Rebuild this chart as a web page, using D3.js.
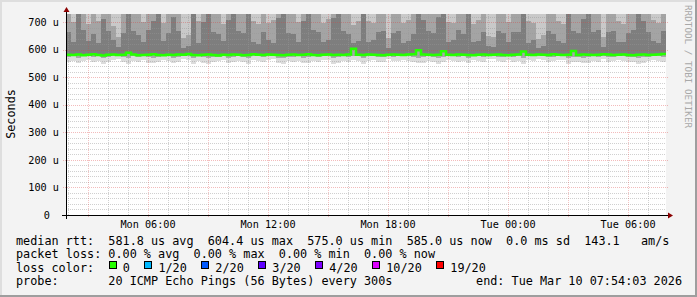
<!DOCTYPE html>
<html>
<head>
<meta charset="utf-8">
<script src="https://cdn.jsdelivr.net/npm/d3@7"></script>
<style>
body { margin: 0; background: #f3f3f3; }
svg text { font-family: "DejaVu Sans Mono", monospace; white-space: pre; }
</style>
</head>
<body>
<div id="viz"></div>
<script>
// user defined variables
var startTime = new Date(Date.UTC(2026, 2, 9, 1, 54, 3));
var endTime = new Date(Date.UTC(2026, 2, 10, 7, 54, 3));
var stepMinutes = 15;

// rtt samples in microseconds, one per 15 min slot
var median = [
  582,581,583,580,582,584,581,579,582,583,
  581,582,589,583,580,581,582,584,581,580,
  582,581,583,582,585,581,580,582,583,581,
  579,582,581,583,582,580,581,584,582,581,
  583,582,581,580,582,583,581,582,584,581,
  580,582,583,581,582,581,583,604,582,581,
  583,582,581,580,582,583,582,581,583,584,
  598,583,582,581,582,595,582,581,583,582,
  581,580,582,583,581,582,583,581,580,582,
  583,594,582,581,583,582,581,584,582,581,
  582,596,581,583,582,581,582,584,583,581,
  582,583,581,580,582,583,581,582,583,585
];

var lo = [
  556,561,552,558,563,554,560,549,557,562,
  566,555,550,559,557,562,553,551,556,564,
  558,552,557,566,563,550,561,553,549,557,
  559,562,551,554,558,556,550,563,560,557,
  562,565,552,549,558,556,561,551,553,559,
  557,562,564,550,552,558,556,563,561,548,
  560,564,557,555,567,558,559,563,561,556,
  551,553,558,556,550,554,562,560,557,559,
  552,563,561,556,566,565,558,557,562,556,
  559,550,563,561,567,564,556,558,562,563,
  549,557,556,551,553,558,555,566,557,558,
  562,561,557,556,550,553,558,563,561,556
];

var p20 = [
  575,577,572,576,578,574,577,571,575,577,
  578,574,572,576,575,577,573,572,575,578,
  576,572,575,578,577,571,576,573,572,575,
  574,577,572,573,576,575,571,577,577,575,
  577,578,572,571,575,574,576,572,573,576,
  574,577,578,572,573,576,575,577,576,571,
  576,578,575,574,578,575,576,577,577,574,
  572,573,576,575,572,573,577,576,575,576,
  572,577,576,574,578,578,575,575,577,574,
  576,572,577,576,578,578,574,575,577,577,
  572,575,574,572,573,576,574,578,575,575,
  577,577,575,574,572,573,575,577,577,574
];

var p70 = [
  664,628,772,671,633,659,624,712,668,636,
  611,662,790,667,655,627,673,705,775,631,
  660,718,669,608,612,777,626,702,786,663,
  657,632,708,771,670,661,788,629,622,666,
  634,625,714,783,662,658,630,706,780,672,
  665,627,636,716,772,668,659,623,631,785,
  628,637,664,670,607,661,667,625,633,659,
  781,709,668,662,719,770,629,635,671,657,
  776,627,632,664,613,609,669,660,630,666,
  663,782,626,634,606,614,670,658,631,624,
  775,667,661,711,771,665,672,609,663,668,
  630,627,660,671,778,704,664,632,626,667
];

var p85 = [
  785,702,950,790,695,772,706,980,795,688,
  648,780,1010,788,770,700,795,940,965,698,
  776,990,792,644,652,960,705,945,1000,786,
  774,694,970,955,798,781,985,703,692,790,
  699,708,948,975,784,777,701,936,968,800,
  789,697,712,958,952,794,771,690,704,992,
  706,696,783,791,642,776,787,699,710,772,
  980,955,795,781,966,944,702,697,800,770,
  958,693,709,786,651,645,792,775,700,789,
  784,972,704,698,639,655,797,773,706,694,
  962,790,778,996,950,786,799,647,782,793,
  703,695,775,790,968,940,785,709,697,788
];

var maxRtt = [
  1180,905,1450,1220,880,1150,930,1520,1190,860,
  745,1160,1610,1210,1130,910,1240,1390,1470,890,
  1140,1550,1200,740,752,1430,915,1400,1580,1170,
  1120,875,1490,1420,1250,1180,1560,900,870,1210,
  890,935,1410,1500,1190,1150,880,1380,1480,1260,
  1220,905,940,1440,1420,1230,1140,860,920,1570,
  925,890,1170,1240,738,1150,1220,895,945,1140,
  1530,1430,1250,1170,1460,1390,905,880,1260,1130,
  1440,870,930,1200,748,742,1240,1150,900,1210,
  1180,1500,915,885,736,755,1250,1140,920,880,
  1450,1230,1160,1590,1410,1200,1260,744,1190,1240,
  910,875,1150,1230,1470,1380,1200,935,885,1220
];

var yTicks = [100, 200, 300, 400, 500, 600, 700];
var lossLabels = ['0', '1/20', '2/20', '3/20', '4/20', '10/20', '19/20'];
var lossColors = ['#26ff00', '#00b8ff', '#0059ff', '#5e00ff', '#7e00ff', '#dd00ff', '#ff0000'];

var legendRows = [
  'median rtt:  581.8 us avg  604.4 us max  575.0 us min  585.0 us now  0.0 ms sd  143.1   am/s',
  'packet loss: 0.00 % avg  0.00 % max  0.00 % min  0.00 % now',
  'loss color:',
  'probe:       20 ICMP Echo Pings (56 Bytes) every 300s'
];
var endLabel = 'end: Tue Mar 10 07:54:03 2026';

// calculated variables
var width = 697;
var height = 297;
var plot = { left: 66, right: 666, top: 14, bottom: 215 };
var pitch = 7.12;

var x = d3.scaleUtc().domain([startTime, endTime]).range([plot.left, plot.right]);
var y = d3.scaleLinear().domain([0, 730]).range([plot.bottom, plot.top]);

var slots = median.map(function(m, i) {
  return {
    t0: d3.utcMinute.offset(startTime, i * stepMinutes),
    t1: d3.utcMinute.offset(startTime, (i + 1) * stepMinutes),
    lo: lo[i], p20: p20[i], median: m, p70: p70[i], p85: p85[i], max: maxRtt[i]
  };
});

var layers = [
  { from: 'lo', to: 'p20', color: '#dcdcdc' },
  { from: 'p20', to: 'median', color: '#a9a9a9' },
  { from: 'median', to: 'p70', color: '#7e7e7e' },
  { from: 'p70', to: 'p85', color: '#a4a4a4' },
  { from: 'p85', to: 'max', color: '#c9c9c9' }
];

// begin all logic
var svg = d3.select('#viz')
  .append('svg')
  .attr('width', width)
  .attr('height', height);

// frame
svg.append('rect').attr('width', width).attr('height', height).attr('fill', '#f3f3f3');
svg.append('rect').attr('x', 0).attr('y', 0).attr('width', width).attr('height', 2).attr('fill', '#dedede');
svg.append('rect').attr('x', 0).attr('y', 0).attr('width', 2).attr('height', height).attr('fill', '#dedede');
svg.append('rect').attr('x', 0).attr('y', height - 2).attr('width', width).attr('height', 2).attr('fill', '#9e9e9e');
svg.append('rect').attr('x', width - 2).attr('y', 0).attr('width', 2).attr('height', height).attr('fill', '#9e9e9e');

svg.append('rect')
  .attr('x', plot.left).attr('y', plot.top)
  .attr('width', plot.right - plot.left).attr('height', plot.bottom - plot.top)
  .attr('fill', '#ffffff');

svg.append('clipPath').attr('id', 'clip')
  .append('rect')
  .attr('x', plot.left).attr('y', plot.top)
  .attr('width', plot.right - plot.left).attr('height', plot.bottom - plot.top);

// smoke logic
var smoke = svg.append('g').attr('clip-path', 'url(#clip)').attr('shape-rendering', 'crispEdges');

layers.forEach(function(layer) {
  smoke.append('g').selectAll('rect')
    .data(slots)
    .enter()
    .append('rect')
    .attr('x', function(d) { return x(d.t0); })
    .attr('width', function(d) { return x(d.t1) - x(d.t0); })
    .attr('y', function(d) { return y(d[layer.to]); })
    .attr('height', function(d) { return Math.max(0, y(d[layer.from]) - y(d[layer.to])); })
    .attr('fill', layer.color);
});

// grid logic
var grid = svg.append('g').attr('shape-rendering', 'crispEdges');

var minorX = x.ticks(d3.utcHour.every(1)).filter(function(t) { return t.getUTCHours() % 3 !== 0; });
var majorX = x.ticks(d3.utcHour.every(3));
var minorY = d3.range(20, 730, 20).filter(function(v) { return v % 100 !== 0; });

grid.selectAll('.minorX')
  .data(minorX)
  .enter()
  .append('line')
  .attr('x1', function(d) { return Math.round(x(d)) + 0.5; })
  .attr('x2', function(d) { return Math.round(x(d)) + 0.5; })
  .attr('y1', plot.top)
  .attr('y2', plot.bottom)
  .attr('stroke', 'rgba(150,150,150,0.45)')
  .attr('stroke-dasharray', '1,1');

grid.selectAll('.minorY')
  .data(minorY)
  .enter()
  .append('line')
  .attr('x1', plot.left)
  .attr('x2', plot.right)
  .attr('y1', function(d) { return Math.round(y(d)) + 0.5; })
  .attr('y2', function(d) { return Math.round(y(d)) + 0.5; })
  .attr('stroke', 'rgba(150,150,150,0.45)')
  .attr('stroke-dasharray', '1,1');

grid.selectAll('.majorX')
  .data(majorX)
  .enter()
  .append('line')
  .attr('x1', function(d) { return Math.round(x(d)) + 0.5; })
  .attr('x2', function(d) { return Math.round(x(d)) + 0.5; })
  .attr('y1', plot.top)
  .attr('y2', plot.bottom + 2)
  .attr('stroke', 'rgba(220,60,60,0.3)')
  .attr('stroke-dasharray', '1,1');

grid.selectAll('.majorY')
  .data(yTicks)
  .enter()
  .append('line')
  .attr('x1', plot.left - 3)
  .attr('x2', plot.right + 2)
  .attr('y1', function(d) { return Math.round(y(d)) + 0.5; })
  .attr('y2', function(d) { return Math.round(y(d)) + 0.5; })
  .attr('stroke', 'rgba(220,60,60,0.35)')
  .attr('stroke-dasharray', '1,1');

// median logic
var medianPts = slots.map(function(d) { return [d.t0, d.median]; });
medianPts.push([endTime, median[median.length - 1]]);

var medianLine = d3.line()
  .x(function(d) { return x(d[0]); })
  .y(function(d) { return y(d[1]); })
  .curve(d3.curveStepAfter);

svg.append('path')
  .datum(medianPts)
  .attr('clip-path', 'url(#clip)')
  .attr('d', medianLine)
  .attr('fill', 'none')
  .attr('stroke', lossColors[0])
  .attr('stroke-width', 2.5);

// axis logic
svg.append('line')
  .attr('x1', plot.left - 4).attr('x2', plot.right + 3)
  .attr('y1', plot.bottom + 0.5).attr('y2', plot.bottom + 0.5)
  .attr('stroke', '#000').attr('shape-rendering', 'crispEdges');
svg.append('line')
  .attr('x1', plot.left + 0.5).attr('x2', plot.left + 0.5)
  .attr('y1', plot.bottom + 4).attr('y2', plot.top - 3)
  .attr('stroke', '#000').attr('shape-rendering', 'crispEdges');
svg.append('path')
  .attr('d', 'M' + (plot.right + 2) + ',' + (plot.bottom - 2.5) + 'L' + (plot.right + 7) + ',' + (plot.bottom + 0.5) + 'L' + (plot.right + 2) + ',' + (plot.bottom + 3.5) + 'Z')
  .attr('fill', '#8b0000');
svg.append('path')
  .attr('d', 'M' + (plot.left - 2.5) + ',' + (plot.top - 2) + 'L' + (plot.left + 0.5) + ',' + (plot.top - 7) + 'L' + (plot.left + 3.5) + ',' + (plot.top - 2) + 'Z')
  .attr('fill', '#8b0000');

svg.append('g').selectAll('text')
  .data([0].concat(yTicks))
  .enter()
  .append('text')
  .text(function(d) { return d === 0 ? '0' : d + ' u'; })
  .attr('x', function(d) { return d === 0 ? 50 : 59; })
  .attr('y', function(d) { return y(d) + 3.6; })
  .attr('text-anchor', 'end')
  .attr('font-size', '10.2px')
  .attr('fill', '#000');

svg.append('g').selectAll('text')
  .data(x.ticks(d3.utcHour.every(6)))
  .enter()
  .append('text')
  .text(d3.utcFormat('%a %H:%M'))
  .attr('x', function(d) { return x(d); })
  .attr('y', 228)
  .attr('text-anchor', 'middle')
  .attr('font-size', '10.2px')
  .attr('fill', '#000');

svg.append('text')
  .text('Seconds')
  .attr('transform', 'translate(15,114) rotate(-90)')
  .attr('text-anchor', 'middle')
  .attr('font-size', '11.8px')
  .attr('fill', '#000');

svg.append('text')
  .text('RRDTOOL / TOBI OETIKER')
  .attr('transform', 'translate(685,5) rotate(90)')
  .attr('font-size', '9.3px')
  .attr('fill', '#a8a8a8');

// legend logic
var legend = svg.append('g');
var rowY = [244.5, 258.1, 271.7, 285.3];

legend.selectAll('text.row')
  .data(legendRows)
  .enter()
  .append('text')
  .text(function(d) { return d; })
  .attr('x', 16)
  .attr('y', function(d, i) { return rowY[i]; })
  .attr('font-size', '11.8px')
  .attr('fill', '#000');

legend.append('text')
  .text(endLabel)
  .attr('x', 682)
  .attr('y', rowY[3])
  .attr('text-anchor', 'end')
  .attr('font-size', '11.8px')
  .attr('fill', '#000');

var col = 13;
lossLabels.forEach(function(label, i) {
  var bx = 16 + col * pitch;
  legend.append('rect')
    .attr('x', Math.round(bx) + 0.5)
    .attr('y', 261.5)
    .attr('width', 7)
    .attr('height', 7)
    .attr('fill', lossColors[i])
    .attr('stroke', '#000');
  legend.append('text')
    .text(label)
    .attr('x', bx + 2 * pitch)
    .attr('y', rowY[2])
    .attr('font-size', '11.8px')
    .attr('fill', '#000');
  col += 2 + label.length + 2;
});
</script>
</body>
</html>
